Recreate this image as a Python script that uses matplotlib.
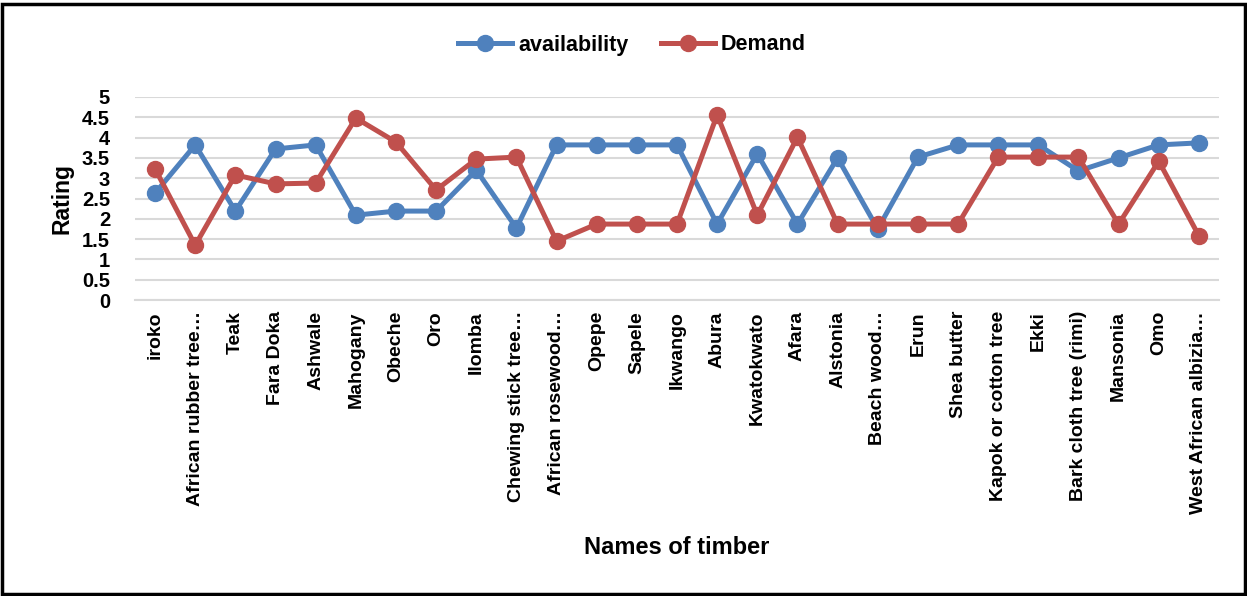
import matplotlib
matplotlib.use("Agg")
import matplotlib.pyplot as plt
from matplotlib.patches import Rectangle

plt.rcParams['font.family'] = ['Liberation Sans', 'DejaVu Sans']

categories = ["iroko", "African rubber tree…", "Teak", "Fara Doka", "Ashwale", "Mahogany",
              "Obeche", "Oro", "Ilomba", "Chewing stick tree…", "African rosewood…",
              "Opepe", "Sapele", "Ikwango", "Abura", "Kwatokwato", "Afara", "Alstonia",
              "Beach wood…", "Erun", "Shea butter", "Kapok or cotton tree", "Ekki",
              "Bark cloth tree (rimi)", "Mansonia", "Omo", "West African albizia…"]
availability = [2.63, 3.82, 2.19, 3.72, 3.82, 2.09, 2.19, 2.19, 3.20, 1.77, 3.82,
                3.82, 3.82, 3.82, 1.87, 3.60, 1.87, 3.50, 1.75, 3.52, 3.82, 3.82,
                3.82, 3.18, 3.50, 3.82, 3.87]
demand = [3.23, 1.35, 3.08, 2.86, 2.88, 4.48, 3.89, 2.71, 3.47, 3.52, 1.45,
          1.87, 1.87, 1.87, 4.56, 2.09, 4.01, 1.87, 1.87, 1.87, 1.87, 3.52,
          3.52, 3.52, 1.87, 3.42, 1.58]
yticks = [0, 0.5, 1, 1.5, 2, 2.5, 3, 3.5, 4, 4.5, 5]
ytick_labels = ["0", "0.5", "1", "1.5", "2", "2.5", "3", "3.5", "4", "4.5", "5"]

W, H = 1247, 596
fig = plt.figure(figsize=(W / 100, H / 100), dpi=100)
n = len(categories)
left_px, right_px = 135, 1219
ax = fig.add_axes([left_px / W, 1 - 300 / H, (right_px - left_px) / W, (300 - 97) / H])

x = list(range(n))
blue = "#4F81BD"
red = "#C0504D"
ax.plot(x, availability, color=blue, lw=3.6, marker="o", ms=11.5, label="availability", zorder=3)
ax.plot(x, demand, color=red, lw=3.6, marker="o", ms=11.5, label="Demand", zorder=4)

ax.set_xlim(-0.5, n - 0.5)
ax.set_ylim(0, 5)
ax.set_yticks(yticks)
ax.set_yticklabels(ytick_labels, fontsize=14.5, fontweight="bold")
ax.set_xticks(x)
ax.set_xticklabels(categories, rotation=90, fontsize=14, fontweight="bold")
ax.tick_params(axis="y", length=0, pad=18)
ax.tick_params(axis="x", length=0, pad=8)
ax.grid(axis="y", color="#D9D9D9", lw=1.5)
ax.set_axisbelow(True)
for s in ["top", "right", "left"]:
    ax.spines[s].set_visible(False)
ax.spines["bottom"].set_color("#D9D9D9")
ax.spines["bottom"].set_linewidth(1.5)

ax.set_ylabel("Rating", fontsize=16.5, fontweight="bold", labelpad=6)
fig.text((left_px + right_px) / 2 / W, 1 - 548 / H, "Names of timber", ha="center", va="center",
         fontsize=17, fontweight="bold")

leg = fig.legend(loc="center", bbox_to_anchor=(632 / W, 1 - 45 / H), ncol=2, frameon=False,
                 prop={"size": 15.5, "weight": "bold"}, handlelength=2.5, columnspacing=1.5,
                 handletextpad=0.3)

fig.patches.append(Rectangle((0.002, 0.004), 0.996, 0.99, transform=fig.transFigure,
                             fill=False, edgecolor="black", lw=2.5))

fig.savefig("out.png", dpi=100)
